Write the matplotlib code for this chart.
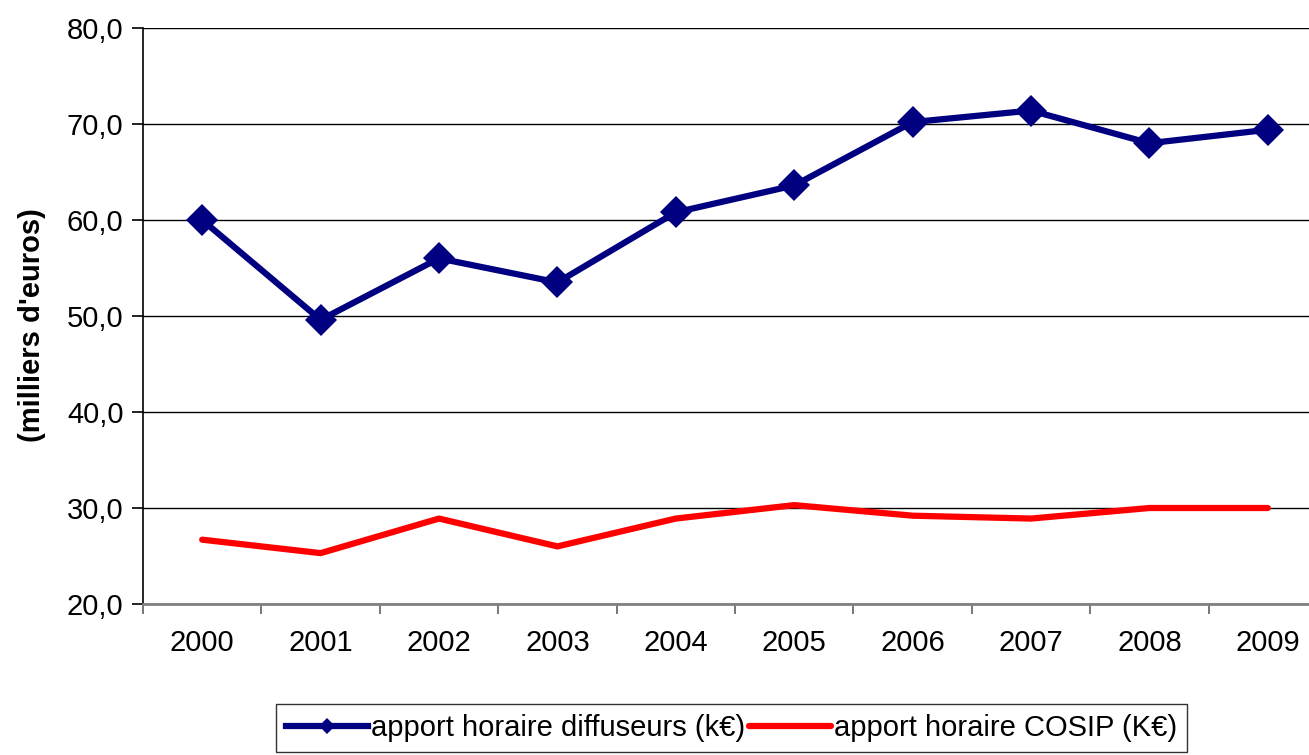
import matplotlib
matplotlib.use("Agg")
import matplotlib.pyplot as plt
from matplotlib.lines import Line2D

plt.rcParams['font.family'] = ['Liberation Sans', 'DejaVu Sans']

# data
years = ['2000', '2001', '2002', '2003', '2004', '2005', '2006', '2007', '2008', '2009']
diffuseurs = [60.0, 49.6, 56.0, 53.5, 60.8, 63.6, 70.2, 71.4, 68.0, 69.4]
cosip = [26.7, 25.3, 28.9, 26.0, 28.9, 30.3, 29.2, 28.9, 30.0, 30.0]
label_diff = "apport horaire diffuseurs (k€)"
label_cosip = "apport horaire COSIP (K€)"

W, H = 1309, 755
fig = plt.figure(figsize=(W / 100, H / 100), dpi=100)
# plot area runs a little past the right edge, like the original
ax = fig.add_axes([143 / W, 1 - 604 / H, (1327 - 143) / W, (604 - 28) / H])

x = list(range(len(years)))
ax.plot(x, diffuseurs, color='#000080', lw=4.5, marker='D', markersize=16.5,
        markeredgewidth=0, zorder=4)
ax.plot(x, cosip, color='#FF0000', lw=4.5, solid_capstyle='round', zorder=3)

ax.set_xlim(-0.5, len(years) - 0.5)
ax.set_ylim(20, 80)
yt = [20, 30, 40, 50, 60, 70, 80]
ax.set_yticks(yt)
ax.set_yticklabels([('%.1f' % v).replace('.', ',') for v in yt])
ax.yaxis.grid(True, color='black', lw=1.0)
ax.set_axisbelow(True)

# ticks between categories, labels centred on them
ax.set_xticks([i - 0.5 for i in range(len(years) + 1)])
ax.set_xticklabels([])
ax.set_xticks(x, minor=True)
ax.set_xticklabels(years, minor=True)
ax.tick_params(axis='x', which='major', direction='out', length=7, width=1.2, color='#606060')
ax.tick_params(axis='x', which='minor', length=0, pad=18, labelsize=21)
ax.tick_params(axis='y', direction='out', length=8, width=1.2, labelsize=21, pad=6)

for s in ['top', 'right']:
    ax.spines[s].set_visible(False)
ax.spines['left'].set_color('black')
ax.spines['left'].set_linewidth(1.2)
ax.spines['bottom'].set_color('#808080')
ax.spines['bottom'].set_linewidth(2)

fig.text(32 / W, 1 - 325 / H, "(milliers d'euros)", rotation=90, fontsize=21,
         fontweight='bold', ha='center', va='center')

handles = [Line2D([], [], color='#000080', lw=4.5, marker='D', markersize=8, markeredgewidth=0),
           Line2D([], [], color='#FF0000', lw=4.5, solid_capstyle='round')]
leg = fig.legend(handles, [label_diff, label_cosip], ncol=2, loc='upper left',
                 bbox_to_anchor=(276 / W, 1 - 704 / H), fontsize=21, frameon=True,
                 fancybox=False, edgecolor='black', handlelength=2.8,
                 handletextpad=0.1, columnspacing=0.15, borderpad=0.35, borderaxespad=0)
leg.get_frame().set_linewidth(1.0)

fig.savefig('out.png', dpi=100)
